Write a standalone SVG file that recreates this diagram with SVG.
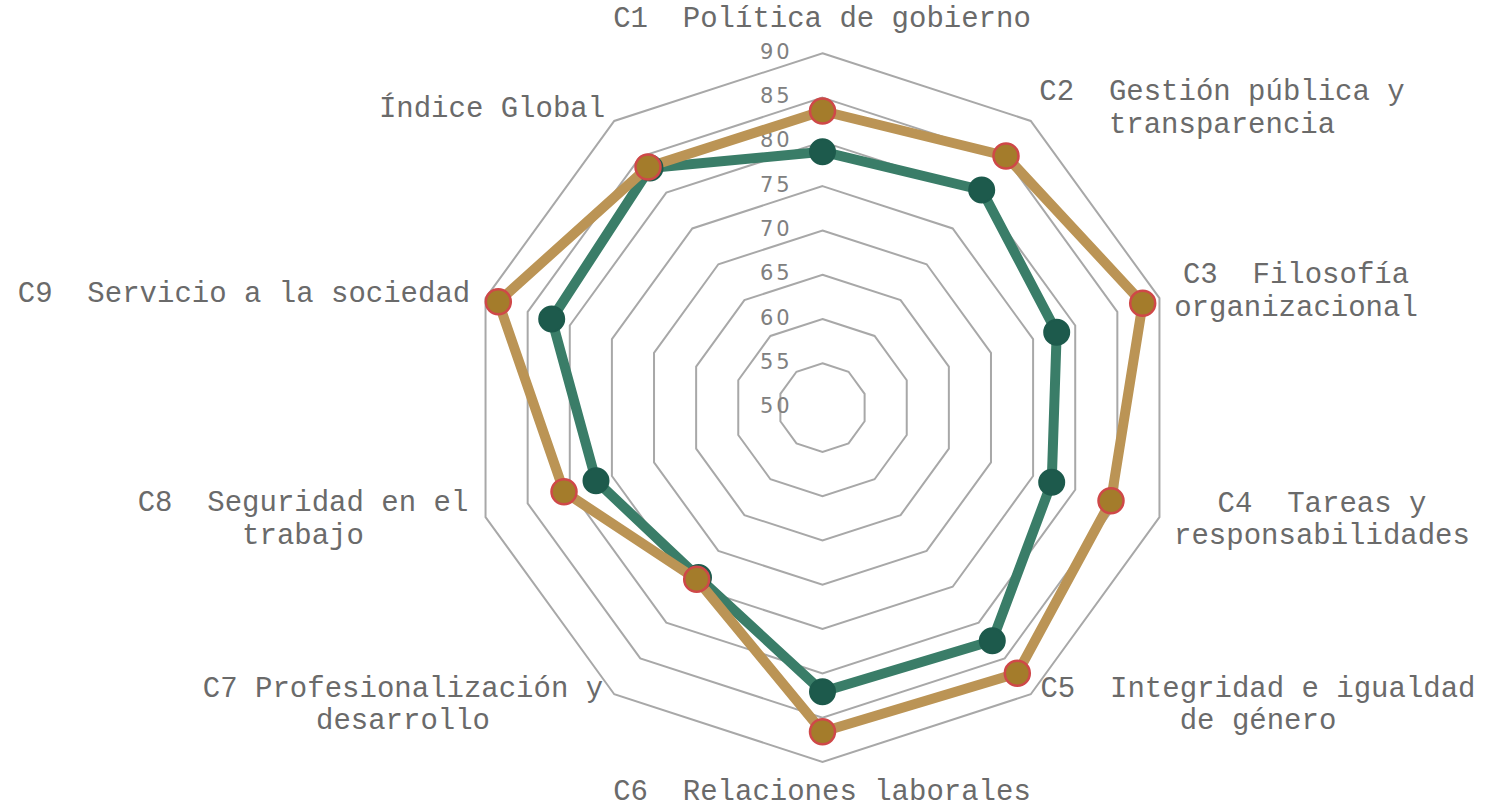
<svg xmlns="http://www.w3.org/2000/svg" width="1486" height="807" viewBox="0 0 1486 807">
<style>
.ring{fill:none;stroke:#a8a8a8;stroke-width:2}
.tick{font-family:"DejaVu Sans",sans-serif;font-size:21px;letter-spacing:3px;fill:#808080}
.lbl{font-family:"Liberation Mono","Courier New",monospace;font-size:29px;fill:#6a6a6a;text-anchor:middle;white-space:pre}
.gline{fill:none;stroke:#3a7d68;stroke-width:10;stroke-linejoin:round}
.gdot{fill:#1d5a4c;stroke:#1d5a4c;stroke-width:2}
.oline{fill:none;stroke:#bb9455;stroke-width:10;stroke-linejoin:round}
.odot{fill:#a47c2b;stroke:#cf4848;stroke-width:2.5}
</style>
<rect width="1486" height="807" fill="#ffffff"/>
<g id="grid">
<polygon class="ring" points="822.5,363.31 848.53,371.77 864.62,393.91 864.62,421.29 848.53,443.43 822.5,451.89 796.47,443.43 780.38,421.29 780.38,393.91 796.47,371.77"/>
<polygon class="ring" points="822.5,319.02 874.57,335.94 906.74,380.23 906.74,434.97 874.57,479.26 822.5,496.18 770.43,479.26 738.26,434.97 738.26,380.23 770.43,335.94"/>
<polygon class="ring" points="822.5,274.74 900.59,300.11 948.86,366.54 948.86,448.66 900.59,515.09 822.5,540.46 744.41,515.09 696.14,448.66 696.14,366.54 744.41,300.11"/>
<polygon class="ring" points="822.5,230.45 926.63,264.28 990.98,352.86 990.98,462.34 926.63,550.92 822.5,584.75 718.37,550.92 654.02,462.34 654.02,352.86 718.37,264.28"/>
<polygon class="ring" points="822.5,186.16 952.66,228.45 1033.10,339.17 1033.10,476.03 952.66,586.75 822.5,629.04 692.34,586.75 611.90,476.03 611.90,339.17 692.34,228.45"/>
<polygon class="ring" points="822.5,141.87 978.69,192.62 1075.22,325.48 1075.22,489.72 978.69,622.58 822.5,673.33 666.31,622.58 569.78,489.72 569.78,325.48 666.31,192.62"/>
<polygon class="ring" points="822.5,97.59 1004.72,156.80 1117.34,311.80 1117.34,503.40 1004.72,658.40 822.5,717.61 640.28,658.40 527.66,503.40 527.66,311.80 640.28,156.80"/>
<polygon class="ring" points="822.5,53.30 1030.75,120.96 1159.46,298.11 1159.46,517.09 1030.75,694.24 822.5,761.90 614.25,694.24 485.54,517.09 485.54,298.11 614.25,120.96"/>
</g>
<g id="ticks">
<text class="tick" x="760" y="58.8">90</text>
<text class="tick" x="760" y="103.1">85</text>
<text class="tick" x="760" y="147.4">80</text>
<text class="tick" x="760" y="191.7">75</text>
<text class="tick" x="760" y="235.9">70</text>
<text class="tick" x="760" y="280.2">65</text>
<text class="tick" x="760" y="324.5">60</text>
<text class="tick" x="760" y="368.8">55</text>
<text class="tick" x="760" y="413.1">50</text>
</g>
<g id="connectors">
<polygon class="gline" points="822.5,151.7 981.7,190 1056.7,332.3 1051.7,482.3 992.3,640.7 822.5,691.7 698.5,577.5 596,480.7 551.7,319 650,168"/>
<polygon class="oline" points="822.5,111 1006,156 1142.7,303.3 1111,500.7 1017.3,673.3 822.5,731.7 696.7,579.3 564,491.7 498.3,301.7 648,167"/>
</g>
<g id="series-green-points">
<circle class="gdot" cx="822.5" cy="151.7" r="12.5"/>
<circle class="gdot" cx="981.7" cy="190" r="12.5"/>
<circle class="gdot" cx="1056.7" cy="332.3" r="12.5"/>
<circle class="gdot" cx="1051.7" cy="482.3" r="12.5"/>
<circle class="gdot" cx="992.3" cy="640.7" r="12.5"/>
<circle class="gdot" cx="822.5" cy="691.7" r="12.5"/>
<circle class="gdot" cx="698.5" cy="577.5" r="12.5"/>
<circle class="gdot" cx="596" cy="480.7" r="12.5"/>
<circle class="gdot" cx="551.7" cy="319" r="12.5"/>
<circle class="gdot" cx="650" cy="168" r="12.5"/>
</g>
<g id="series-gold-points">
<circle class="odot" cx="822.5" cy="111" r="12.5"/>
<circle class="odot" cx="1006" cy="156" r="12.5"/>
<circle class="odot" cx="1142.7" cy="303.3" r="12.5"/>
<circle class="odot" cx="1111" cy="500.7" r="12.5"/>
<circle class="odot" cx="1017.3" cy="673.3" r="12.5"/>
<circle class="odot" cx="822.5" cy="731.7" r="12.5"/>
<circle class="odot" cx="696.7" cy="579.3" r="12.5"/>
<circle class="odot" cx="564" cy="491.7" r="12.5"/>
<circle class="odot" cx="498.3" cy="301.7" r="12.5"/>
<circle class="odot" cx="648" cy="167" r="12.5"/>
</g>
<g id="label-c1"><text class="lbl" xml:space="preserve" x="822" y="27">C1  Política de gobierno</text></g>
<g id="label-c2"><text class="lbl" xml:space="preserve" x="1222" y="100">C2  Gestión pública y</text><text class="lbl" x="1222" y="133">transparencia</text></g>
<g id="label-c3"><text class="lbl" xml:space="preserve" x="1296" y="283">C3  Filosofía</text><text class="lbl" x="1296" y="316">organizacional</text></g>
<g id="label-c4"><text class="lbl" xml:space="preserve" x="1322" y="512">C4  Tareas y</text><text class="lbl" x="1322" y="544">responsabilidades</text></g>
<g id="label-c5"><text class="lbl" xml:space="preserve" x="1258" y="697">C5  Integridad e igualdad</text><text class="lbl" x="1258" y="729">de género</text></g>
<g id="label-c6"><text class="lbl" xml:space="preserve" x="822" y="800">C6  Relaciones laborales</text></g>
<g id="label-c7"><text class="lbl" xml:space="preserve" x="403" y="697">C7 Profesionalización y</text><text class="lbl" x="403" y="729">desarrollo</text></g>
<g id="label-c8"><text class="lbl" xml:space="preserve" x="303" y="511">C8  Seguridad en el</text><text class="lbl" x="303" y="544">trabajo</text></g>
<g id="label-c9"><text class="lbl" xml:space="preserve" x="244" y="302">C9  Servicio a la sociedad</text></g>
<g id="label-ig"><text class="lbl" xml:space="preserve" x="492" y="117">Índice Global</text></g>
</svg>
